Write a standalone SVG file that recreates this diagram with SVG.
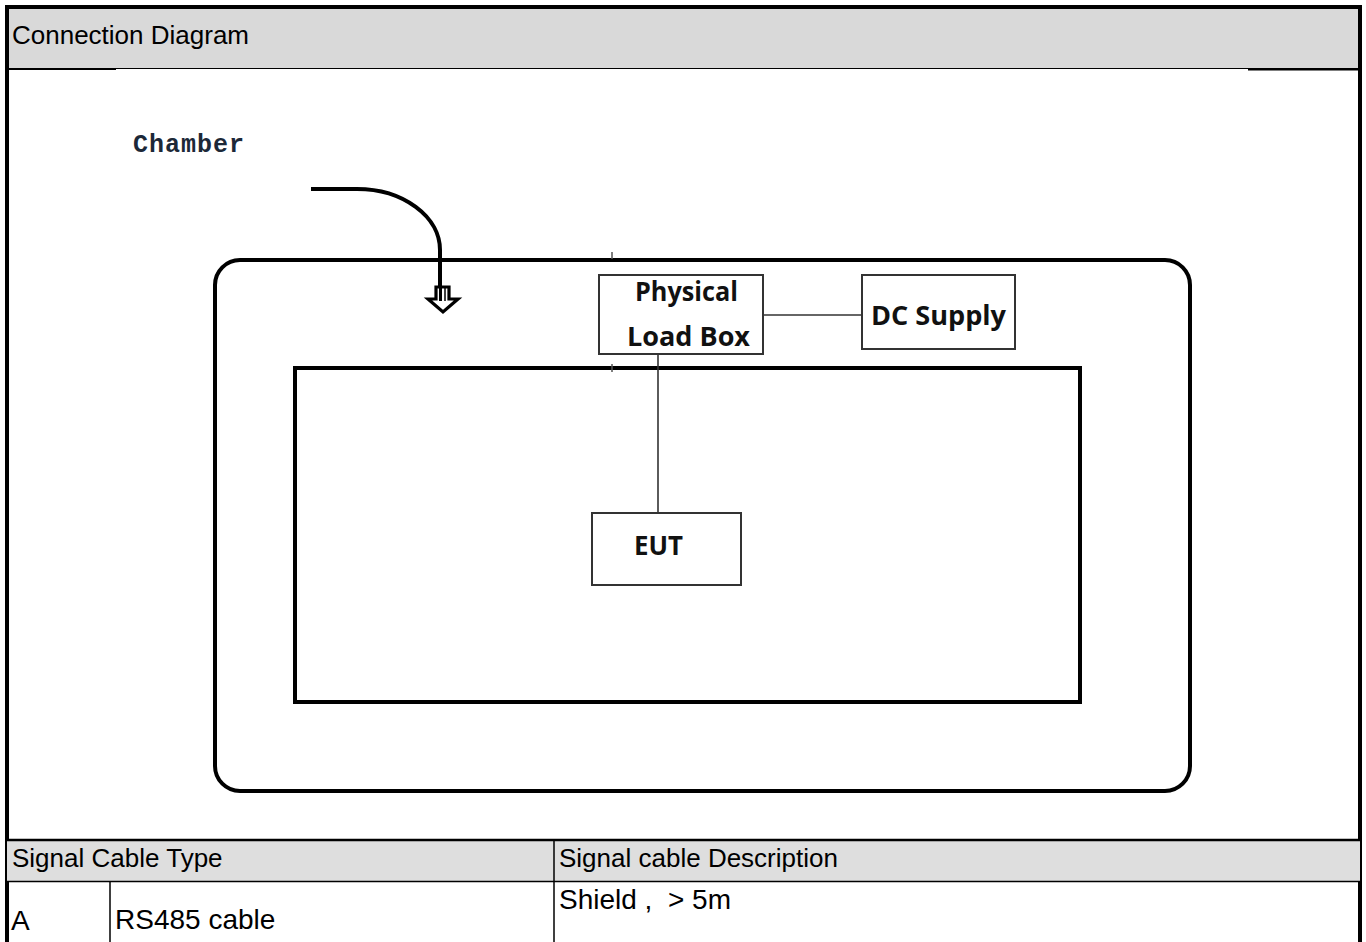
<svg xmlns="http://www.w3.org/2000/svg" width="1366" height="942" viewBox="0 0 1366 942">
  <style>
    .tbl { font-family: "Liberation Sans", Arial, sans-serif; font-size: 26px; fill: #000; }
    .row { font-size: 28px; }
    .node rect { fill: #fff; stroke: #333; stroke-width: 2; }
    .lbl { font-family: "Open Sans", "Noto Sans", sans-serif; font-weight: bold; font-size: 26px; fill: #111; }
    .wire { stroke: #333; stroke-width: 1.6; fill: none; }
    .frame { stroke: #000; fill: none; }
  </style>
  <rect x="0" y="0" width="1366" height="942" fill="#fff"/>

  <!-- title row -->
  <g id="header">
    <rect x="7" y="7" width="1353" height="61" fill="#d9d9d9"/>
    <line x1="5" y1="68.5" x2="1358" y2="68.5" stroke="#000" stroke-width="1.2"/>
    <line x1="5" y1="69" x2="116" y2="69" stroke="#000" stroke-width="2"/>
    <line x1="1248" y1="69.5" x2="1358" y2="69.5" stroke="#000" stroke-width="2"/>
    <text class="tbl" x="12" y="43.5">Connection Diagram</text>
  </g>

  <!-- outer frame -->
  <g id="frame">
    <line class="frame" x1="5" y1="7" x2="1362" y2="7" stroke-width="4"/>
    <line class="frame" x1="7" y1="5" x2="7" y2="942" stroke-width="4"/>
    <line class="frame" x1="1360" y1="5" x2="1360" y2="942" stroke-width="4"/>
  </g>

  <!-- chamber -->
  <g id="chamber">
    <rect x="215" y="260" width="975" height="531" rx="25" ry="25" fill="none" stroke="#000" stroke-width="4"/>
    <line x1="612" y1="252" x2="612" y2="259" stroke="#555" stroke-width="1.5"/>
    <text x="133" y="152" font-family="'Liberation Mono', 'DejaVu Sans Mono', monospace" font-weight="bold" font-size="25" fill="#1c2838" textLength="111" lengthAdjust="spacing">Chamber</text>
  </g>

  <g id="chamber-pointer">
    <path d="M311,189 L357,189 A83,61 0 0 1 440,250 L440,298" fill="none" stroke="#000" stroke-width="4"/>
    <path d="M436,287 L449,287 L449,299 L458,299 L443,312 L428,299 L436,299 Z" fill="#fff" stroke="#000" stroke-width="3.2" stroke-linejoin="miter"/>
    <line x1="440.5" y1="287" x2="440.5" y2="301" stroke="#000" stroke-width="3"/>
    <line x1="445" y1="288" x2="445" y2="301" stroke="#000" stroke-width="1.5"/>
  </g>

  <!-- test table inside chamber -->
  <g id="table-area">
    <rect x="295" y="368" width="785" height="334" fill="none" stroke="#000" stroke-width="4"/>
    <line x1="612" y1="364" x2="612" y2="372" stroke="#555" stroke-width="1.5"/>
  </g>

  <!-- connectors -->
  <g id="connectors">
    <line class="wire" x1="763" y1="315" x2="862" y2="315"/>
    <line class="wire" x1="658" y1="354" x2="658" y2="513"/>
  </g>

  <g id="load-box" class="node">
    <rect x="599" y="275" width="164" height="79"/>
    <text class="lbl" x="686.5" y="301" text-anchor="middle" textLength="103" lengthAdjust="spacingAndGlyphs">Physical</text>
    <text class="lbl" x="688.5" y="346" text-anchor="middle" textLength="123" lengthAdjust="spacingAndGlyphs">Load Box</text>
  </g>

  <g id="dc-supply" class="node">
    <rect x="862" y="275" width="153" height="74"/>
    <text class="lbl" x="938.5" y="325" text-anchor="middle" textLength="135" lengthAdjust="spacingAndGlyphs">DC Supply</text>
  </g>

  <g id="eut" class="node">
    <rect x="592" y="513" width="149" height="72"/>
    <text class="lbl" x="658.5" y="555" text-anchor="middle" textLength="49" lengthAdjust="spacingAndGlyphs">EUT</text>
  </g>

  <!-- cable table -->
  <g id="cable-table">
    <rect x="7" y="841" width="1353" height="40" fill="#dedede"/>
    <line x1="5" y1="840" x2="1362" y2="840" stroke="#000" stroke-width="2.5"/>
    <line x1="5" y1="881.5" x2="1362" y2="881.5" stroke="#000" stroke-width="1.5"/>
    <line x1="554" y1="840" x2="554" y2="942" stroke="#000" stroke-width="1.5"/>
    <line x1="110" y1="881" x2="110" y2="942" stroke="#000" stroke-width="1.5"/>
    <text class="tbl" x="12" y="867">Signal Cable Type</text>
    <text class="tbl" x="559" y="867">Signal cable Description</text>
    <text class="tbl row" x="11" y="930">A</text>
    <text class="tbl row" x="115" y="929">RS485 cable</text>
    <text class="tbl row" x="559" y="909" xml:space="preserve">Shield ,  &gt; 5m</text>
  </g>
</svg>
